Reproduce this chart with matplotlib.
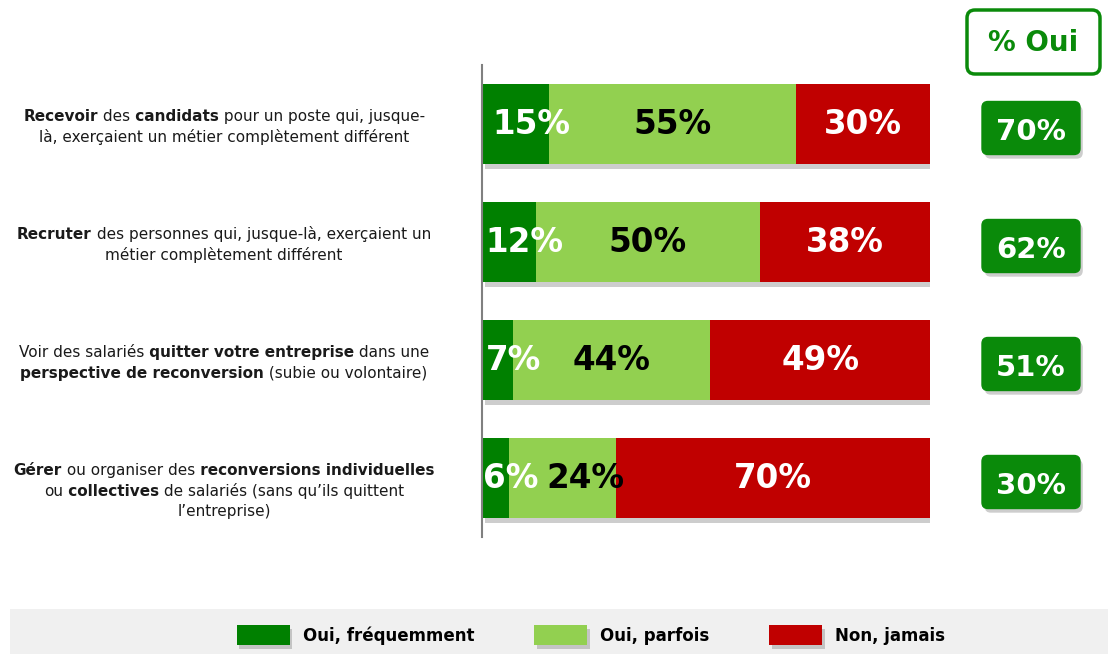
import matplotlib.pyplot as plt
import matplotlib.patheffects as pe
from matplotlib.patches import FancyBboxPatch, Rectangle
import numpy as np

plt.rcParams['font.family'] = 'DejaVu Sans'

# category labels as (text, bold) pieces per line
categories = [
    [[("Recevoir", True), (" des", False), (" candidats", True), (" pour un poste qui, jusque-", False)],
     [("là, exerçaient un métier complètement différent", False)]],
    [[("Recruter", True), (" des personnes qui, jusque-là, exerçaient un", False)],
     [("métier complètement différent", False)]],
    [[("Voir des salariés", False), (" quitter votre entreprise", True), (" dans une", False)],
     [("perspective de reconversion", True), (" (subie ou volontaire)", False)]],
    [[("Gérer", True), (" ou organiser des", False), (" reconversions individuelles", True)],
     [("ou", False), (" collectives", True), (" de salariés (sans qu’ils quittent", False)],
     [("l’entreprise)", False)]],
]
series = ["Oui, fréquemment", "Oui, parfois", "Non, jamais"]
frequemment = [15, 12, 7, 6]
parfois = [55, 50, 44, 24]
jamais = [30, 38, 49, 70]

colors = ["#008000", "#92D050", "#C00000"]
txt_colors = ["white", "black", "white"]
box_green = "#0A8A0A"

W, H = 1108, 654
fig = plt.figure(figsize=(W / 100, H / 100), dpi=100)
ax = fig.add_axes([482 / W, 117 / H, 448 / W, 472 / H])


def shadow():
    return [pe.SimplePatchShadow(offset=(2, -3), shadow_rgbFace="#909090", alpha=0.45), pe.Normal()]


data = np.array([frequemment, parfois, jamais])
y = np.arange(len(categories))
left = np.zeros(len(categories))
for k in range(3):
    bars = ax.barh(y, data[k], left=left, height=0.686, color=colors[k], label=series[k])
    for b in bars:
        b.set_path_effects(shadow())
    left += data[k]

# percent labels inside the bars
for i in range(len(categories)):
    start = 0
    prev = None
    for k in range(3):
        v = data[k, i]
        xc = start + v / 2
        if k == 0:
            xc = v / 2 + 3.5
        else:
            xc = max(xc, prev + 16.5)
        ax.text(xc, i, f"{v}%", ha="center", va="center", fontsize=23.5,
                fontweight="bold", color=txt_colors[k], zorder=5)
        prev = xc
        start += v

ax.set_xlim(0, 100)
ax.set_ylim(len(categories) - 0.5, -0.5)
for s in ["top", "right", "bottom"]:
    ax.spines[s].set_visible(False)
ax.spines["left"].set_color("#808080")
ax.spines["left"].set_linewidth(1.5)
ax.set_xticks([])
ax.set_yticks([])

# overlay in pixel coordinates
ov = fig.add_axes([0, 0, 1, 1])
ov.set_xlim(0, W)
ov.set_ylim(H, 0)
ov.axis("off")
ov.patch.set_visible(False)

renderer = fig.canvas.get_renderer()


def row_px(i):
    return H - ax.transData.transform((0, i))[1]


def rich_line(xc, yy, parts, size):
    texts = [ov.text(0, yy, s, fontsize=size, fontweight="bold" if b else "normal",
                     color="#1a1a1a", ha="left", va="center") for s, b in parts]
    widths = [t.get_window_extent(renderer).width for t in texts]
    x = xc - sum(widths) / 2
    for t, w in zip(texts, widths):
        t.set_x(x)
        x += w


for i, lines in enumerate(categories):
    yc = row_px(i)
    for j, parts in enumerate(lines):
        rich_line(224, yc - 7.5 + j * 20.7, parts, 11)

# % Oui column
hdr = FancyBboxPatch((967, 10), 133, 64, boxstyle="round,pad=0,rounding_size=8",
                     fc="white", ec=box_green, lw=2.5)
ov.add_patch(hdr)
ov.text(1033.5, 43, "% Oui", ha="center", va="center", fontsize=20,
        fontweight="bold", color=box_green)

oui = data[0] + data[1]
for i, v in enumerate(oui):
    yc = row_px(i) + 4
    box = FancyBboxPatch((982, yc - 26.5), 98, 53, boxstyle="round,pad=0,rounding_size=6",
                         fc=box_green, ec=box_green, lw=1)
    box.set_path_effects(shadow())
    ov.add_patch(box)
    ov.text(1031, yc + 4, f"{v}%", ha="center", va="center", fontsize=21,
            fontweight="bold", color="white")

# legend band
ov.add_patch(Rectangle((10, 609), W - 10, 45, fc="#f0f0f0", ec="none", zorder=0))
leg = fig.legend(loc="center", bbox_to_anchor=(591 / W, 1 - 635 / H), ncol=3, frameon=False,
                 prop=dict(size=12, weight="bold"), handlelength=3.18, handleheight=1.44,
                 handletextpad=0.78, columnspacing=3.6)
for p in leg.get_patches():
    p.set_path_effects(shadow())

fig.savefig("out.png", dpi=100)
